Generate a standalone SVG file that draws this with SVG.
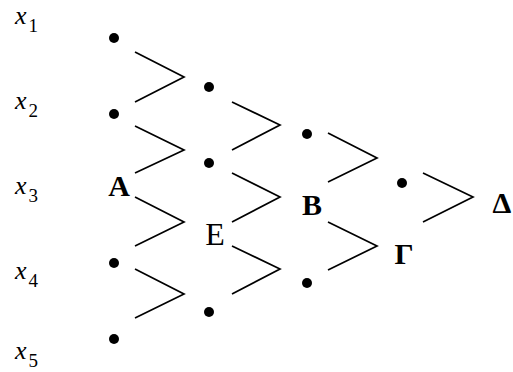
<svg xmlns="http://www.w3.org/2000/svg" width="513" height="372" viewBox="0 0 513 372">
<style>
.dot{fill:#000}
.ch{fill:none;stroke:#000;stroke-width:1.7}
.v{font-family:"Liberation Serif",serif;font-style:italic;font-size:26px;fill:#000}
.s{font-style:normal;font-size:19px}
.b{font-family:"Liberation Serif",serif;font-weight:bold;font-size:30px;fill:#000;text-anchor:middle}
.r{font-family:"Liberation Serif",serif;font-size:32px;fill:#000;text-anchor:middle}
</style>
<rect width="513" height="372" fill="#fff"/>
<g id="labels-x">
<text class="v" x="15" y="24">x<tspan class="s" dx="2" dy="8">1</tspan></text>
<text class="v" x="15" y="109">x<tspan class="s" dx="2" dy="8">2</tspan></text>
<text class="v" x="15" y="194">x<tspan class="s" dx="2" dy="8">3</tspan></text>
<text class="v" x="15" y="279">x<tspan class="s" dx="2" dy="8">4</tspan></text>
<text class="v" x="15" y="359">x<tspan class="s" dx="2" dy="8">5</tspan></text>
</g>
<g id="n1"><circle class="dot" cx="114" cy="38" r="5"/></g>
<g id="n2"><circle class="dot" cx="114" cy="114" r="5"/></g>
<g id="nA"><text class="b" x="119" y="196">A</text></g>
<g id="n4"><circle class="dot" cx="114" cy="263" r="5"/></g>
<g id="n5"><circle class="dot" cx="114" cy="339" r="5"/></g>
<g id="n6"><circle class="dot" cx="209" cy="87" r="5"/></g>
<g id="n7"><circle class="dot" cx="209" cy="163" r="5"/></g>
<g id="nE"><text class="r" x="215" y="245">Ε</text></g>
<g id="n9"><circle class="dot" cx="209" cy="312" r="5"/></g>
<g id="n10"><circle class="dot" cx="307" cy="134" r="5"/></g>
<g id="nB"><text class="b" x="312" y="215">Β</text></g>
<g id="n12"><circle class="dot" cx="307" cy="283" r="5"/></g>
<g id="n13"><circle class="dot" cx="402" cy="183" r="5"/></g>
<g id="nG"><text class="b" x="404" y="264">Γ</text></g>
<g id="nD"><text class="b" x="502" y="213">Δ</text></g>
<g id="connectors">
<polyline class="ch" points="135,52 184,77 135,102"/>
<polyline class="ch" points="135,126 184,150 135,173"/>
<polyline class="ch" points="135,197 184,222 135,246"/>
<polyline class="ch" points="135,269 184,294 135,318"/>
<polyline class="ch" points="232,102 280,125 232,150"/>
<polyline class="ch" points="232,173 280,197 232,222"/>
<polyline class="ch" points="232,246 280,269 232,294"/>
<polyline class="ch" points="328,133 377,158 328,182"/>
<polyline class="ch" points="328,222 377,246 328,270"/>
<polyline class="ch" points="423,173 473,197 423,222"/>
</g>
</svg>
